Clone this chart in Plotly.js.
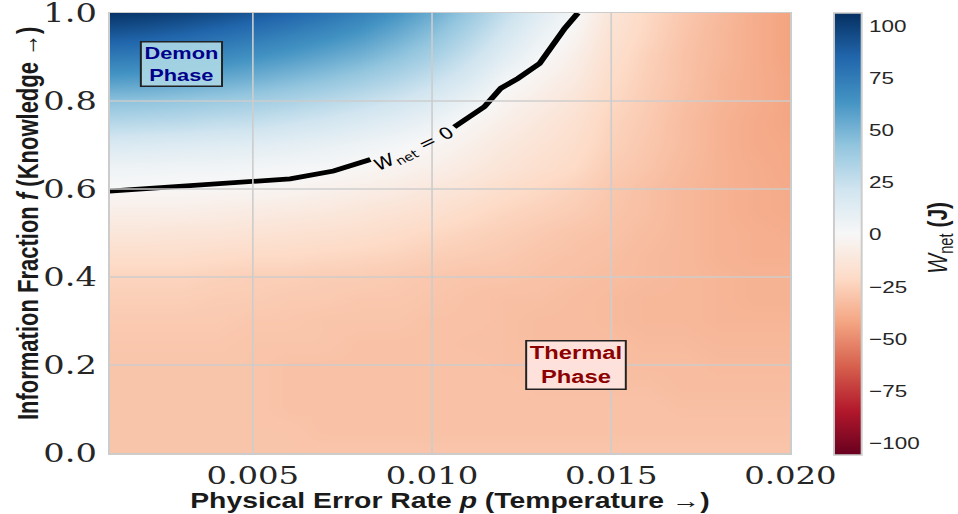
<!DOCTYPE html>
<html>
<head>
<meta charset="utf-8">
<script src="https://cdn.plot.ly/plotly-3.0.1.min.js"></script>
<style>
  html, body { margin: 0; padding: 0; background: #ffffff; overflow: hidden; }
  #wrap { width: 958px; height: 514px; overflow: hidden; }
  #plot { width: 726px; height: 514px; transform: scaleX(1.31956); transform-origin: 0 0; }
</style>
</head>
<body>
<div id="wrap"><div id="plot"></div></div>
<script>
// Physical error rate p (columns)
const errorRate = [0.001,0.002,0.003,0.004,0.005,0.006,0.007,0.008,0.009,0.010,
                   0.011,0.012,0.013,0.014,0.015,0.016,0.017,0.018,0.019,0.020];
// Information fraction f (rows)
const infoFraction = [0.00,0.05,0.10,0.15,0.20,0.25,0.30,0.35,0.40,0.45,0.50,
                      0.55,0.60,0.65,0.70,0.75,0.80,0.85,0.90,0.95,1.00];
// Net work W_net (J), one row per information fraction
const wNet = [
  [-30,-30,-30,-30,-30,-30,-30,-30,-30,-30,-30,-30,-30,-30,-30,-30,-30,-30,-30,-30],
  [-30,-30,-30,-30,-30,-30,-31,-31,-31,-31,-31,-31,-31,-31,-31,-31,-31,-31,-31,-31],
  [-30,-30,-30,-30,-30,-31,-31,-31,-31,-31,-31,-31,-31,-31,-31,-31,-32,-32,-32,-32],
  [-30,-30,-30,-30,-30,-31,-31,-31,-31,-31,-31,-31,-32,-32,-32,-32,-33,-33,-33,-33],
  [-30,-30,-30,-30,-30,-31,-31,-31,-31,-31,-31,-32,-32,-33,-33,-33,-33,-34,-34,-34],
  [-29,-29,-29,-29,-30,-30,-30,-31,-31,-31,-32,-32,-33,-33,-33,-34,-34,-35,-35,-35],
  [-28,-28,-28,-28,-29,-29,-30,-30,-30,-31,-31,-32,-33,-33,-34,-35,-35,-36,-36,-36],
  [-26,-26,-26,-27,-27,-28,-28,-29,-29,-30,-31,-32,-32,-33,-34,-35,-35,-36,-37,-37],
  [-24,-24,-24,-25,-26,-26,-27,-27,-28,-29,-30,-30,-31,-32,-33,-34,-35,-36,-37,-37],
  [-19,-19,-19,-20,-21,-21,-22,-23,-24,-26,-27,-28,-30,-31,-32,-34,-35,-37,-38,-38],
  [-13,-13,-14,-14,-15,-16,-17,-18,-20,-22,-24,-26,-28,-30,-31,-33,-35,-37,-38,-39],
  [-7,-7,-7,-8,-9,-10,-11,-13,-15,-17,-20,-23,-25,-27,-30,-32,-35,-37,-39,-40],
  [0,-1,-1,-2,-2,-3,-5,-7,-9,-12,-15,-19,-22,-25,-29,-32,-35,-37,-39,-40],
  [5,5,4,4,3,2,1,-1,-3,-6,-10,-14,-18,-21,-27,-30,-34,-37,-39,-41],
  [16,15,14,13,12,10,8,5,2,-2,-6,-11,-15,-19,-25,-29,-33,-37,-40,-41],
  [30,29,28,26,25,22,19,15,11,6,-2,-7,-12,-17,-24,-28,-33,-37,-40,-42],
  [44,43,41,39,37,34,30,26,21,15,7,-3,-8,-14,-22,-27,-32,-36,-39,-42],
  [60,59,57,54,51,47,43,38,32,25,16,3,-4,-10,-20,-26,-31,-36,-39,-42],
  [75,74,71,68,64,60,55,50,43,35,24,12,1,-7,-18,-25,-31,-35,-39,-43],
  [90,88,85,81,77,72,67,61,53,44,32,19,7,-3,-16,-23,-30,-35,-39,-43],
  [104,102,99,95,90,85,79,72,63,53,40,26,13,1,-14,-22,-29,-34,-39,-43]
];
// W_net = 0 boundary (null = gap where the inline label sits)
const boundaryP = [0.00100,0.00212,0.00352,0.00492,0.00604,0.00725,0.00828,null,
                   0.01062,0.01146,0.01192,0.01239,0.01300,0.01332,0.01370,0.01407];
const boundaryF = [0.595,0.601,0.607,0.616,0.623,0.641,0.667,null,
                   0.741,0.787,0.829,0.851,0.885,0.923,0.965,1.000];

const xTickVals = [0.005,0.010,0.015,0.020];
const xTickText = ['0.005','0.010','0.015','0.020'];
const yTickVals = [0.0,0.2,0.4,0.6,0.8,1.0];
const yTickText = ['0.0','0.2','0.4','0.6','0.8','1.0'];
const cbTickVals = [-100,-75,-50,-25,0,25,50,75,100];
const cbTickText = ['\u2212100','\u221275','\u221250','\u221225','0','25','50','75','100'];
const zLimit = 106;

// matplotlib RdBu
const rdbu = [
  [0.0,'#67001f'],[0.1,'#b2182b'],[0.2,'#d6604d'],[0.3,'#f4a582'],[0.4,'#fddbc7'],
  [0.5,'#f7f7f7'],[0.6,'#d1e5f0'],[0.7,'#92c5de'],[0.8,'#4393c3'],[0.9,'#2166ac'],[1.0,'#053061']
];

const heat = {
  type: 'heatmap',
  x: errorRate, y: infoFraction, z: wNet,
  zmin: -zLimit, zmax: zLimit, colorscale: rdbu, zsmooth: 'best',
  hoverinfo: 'skip',
  colorbar: {
    x: 1.0453, xanchor: 'left', y: 0.4966, yanchor: 'middle',
    lenmode: 'pixels', len: 462, thickness: 21,
    outlinewidth: 1.5, outlinecolor: '#cccccc',
    tickvals: cbTickVals, ticktext: cbTickText,
    ticks: 'outside', ticklen: 2, tickcolor: 'rgba(0,0,0,0)',
    tickfont: {family: 'Liberation Sans', size: 17, color: '#262626'}
  }
};
const boundary = {
  type: 'scatter', mode: 'lines', x: boundaryP, y: boundaryF,
  connectgaps: false, line: {color: '#000000', width: 4.8}, hoverinfo: 'skip', showlegend: false
};

const gridColor = 'rgba(204,204,204,0.95)';
const shapes = [];
xTickVals.slice(0, 3).forEach(v => shapes.push({type: 'line', layer: 'above', xref: 'x', yref: 'paper',
  x0: v, x1: v, y0: 0, y1: 1, line: {color: gridColor, width: 1.3}}));
yTickVals.slice(1, 5).forEach(v => shapes.push({type: 'line', layer: 'above', xref: 'paper', yref: 'y',
  x0: 0, x1: 1, y0: v, y1: v, line: {color: gridColor, width: 1.3}}));

const titleFont = {family: 'Liberation Sans', size: 21.5, weight: 'bold', color: '#1a1a1a'};
const yTitleFont = {family: 'Liberation Sans', size: 22, weight: 'bold', color: '#1a1a1a'};

const layout = {
  width: 726, height: 514,
  margin: {l: 83, r: 127, t: 13, b: 61, pad: 0, autoexpand: false},
  paper_bgcolor: '#ffffff', plot_bgcolor: '#ffffff',
  showlegend: false,
  xaxis: {
    range: [0.001, 0.020], tickvals: xTickVals, ticktext: xTickText,
    tickfont: {family: 'DejaVu Serif', size: 24.5, color: '#262626'},
    showgrid: false, zeroline: false, showline: true, mirror: true,
    linecolor: '#cccccc', linewidth: 1.5, ticks: '', ticklabelstandoff: 0,
    ticklabeloverflow: 'allow', automargin: false
  },
  yaxis: {
    range: [0, 1], tickvals: yTickVals, ticktext: yTickText,
    tickfont: {family: 'DejaVu Serif', size: 25.5, color: '#262626'},
    showgrid: false, zeroline: false, showline: true, mirror: true,
    linecolor: '#cccccc', linewidth: 1.5, ticks: '', ticklabelstandoff: 3,
    ticklabeloverflow: 'allow', automargin: false
  },
  shapes: shapes,
  annotations: [
    {x: 0.5, y: -0.108, xref: 'paper', yref: 'paper', xanchor: 'center', yanchor: 'middle',
     showarrow: false, text: 'Physical Error Rate <i>p</i> (Temperature \u2192)', font: titleFont},
    {x: -0.1206, y: 0.522, xref: 'paper', yref: 'paper', xanchor: 'center', yanchor: 'middle',
     showarrow: false, textangle: -90,
     text: 'Information Fraction <i>f</i> (Knowledge \u2192)', font: yTitleFont},
    {x: 0.003, y: 0.884, xref: 'x', yref: 'y', showarrow: false,
     text: 'Demon<br>Phase', align: 'center',
     font: {family: 'Liberation Sans', size: 16.5, weight: 'bold', color: '#00008b'},
     bgcolor: 'rgba(173,216,230,0.9)', bordercolor: '#222222', borderwidth: 1.5, borderpad: 2},
    {x: 0.014, y: 0.2, xref: 'x', yref: 'y', showarrow: false,
     text: 'Thermal<br>Phase', align: 'center',
     font: {family: 'Liberation Sans', size: 18, weight: 'bold', color: '#8b0000'},
     bgcolor: 'rgba(255,228,225,0.9)', bordercolor: '#222222', borderwidth: 1.5, borderpad: 2},
    {x: 0.0095, y: 0.69, xref: 'x', yref: 'y', showarrow: false, textangle: -31.6,
     text: '<i>W</i><sub>net</sub> = 0',
     font: {family: 'DejaVu Sans', size: 16, color: '#000000'}},
    {x: 1.2195, y: 0.49, xref: 'paper', yref: 'paper', xanchor: 'center', yanchor: 'middle',
     showarrow: false, textangle: -90,
     text: '<i>W</i><sub>net</sub> <b>(J)</b>',
     font: {family: 'Liberation Sans', size: 21, color: '#1a1a1a'}}
  ]
};

Plotly.newPlot('plot', [heat, boundary], layout, {staticPlot: true, displayModeBar: false});
</script>
</body>
</html>
